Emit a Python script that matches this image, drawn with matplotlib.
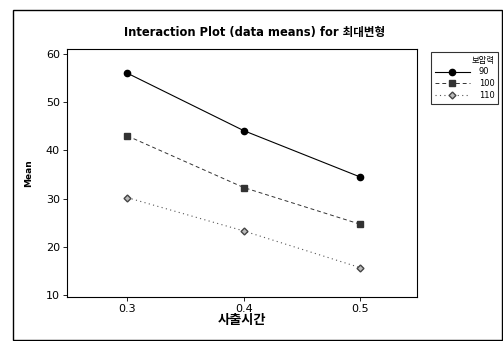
import matplotlib
matplotlib.use("Agg")
import matplotlib.pyplot as plt
from matplotlib.patches import Rectangle

plt.rcParams['font.family'] = ['DejaVu Sans', 'Noto Sans CJK KR']

x_vals = [0.3, 0.4, 0.5]
x_ticks = ["0.3", "0.4", "0.5"]
levels = ["90", "100", "110"]
means_90 = [56.0, 44.1, 34.5]
means_100 = [43.0, 32.3, 24.7]
means_110 = [30.2, 23.3, 15.7]
y_ticks = [10, 20, 30, 40, 50, 60]

fig = plt.figure(figsize=(5.03, 3.41), dpi=100)
ax = fig.add_axes([0.133, 0.129, 0.696, 0.727])

styles = [
    dict(ls='-', marker='o', color='black', ms=4.5, lw=0.8),
    dict(ls=(0, (4, 3)), marker='s', color='#333333', ms=4, lw=0.7),
    dict(ls=(0, (1, 3)), marker='D', color='#555555', ms=3.5, lw=0.8,
         mfc='#bbbbbb', mec='#444444'),
]
for lvl, ys, st in zip(levels, [means_90, means_100, means_110], styles):
    ax.plot(x_vals, ys, label=lvl, **st)

ax.set_xlim(0.248, 0.549)
ax.set_ylim(9.6, 61)
ax.set_xticks(x_vals)
ax.set_xticklabels(x_ticks)
ax.set_yticks(y_ticks)
ax.tick_params(labelsize=8, length=3, width=0.6, pad=2)
for s in ax.spines.values():
    s.set_linewidth(0.8)

ax.set_xlabel("사출시간", fontsize=9.5, fontweight='bold', labelpad=0)
ax.set_ylabel("Mean", fontsize=6.5, fontweight='bold', labelpad=9)
fig.text(0.507, 0.905, "Interaction Plot (data means) for 최대변형",
         ha='center', va='center', fontsize=8.3, fontweight='bold')

leg = fig.legend(title="보압력", loc='upper left',
                 bbox_to_anchor=(427/503, 1-48/341), fontsize=6,
                 title_fontsize=6, frameon=True, fancybox=False,
                 edgecolor='black', handlelength=4.2, markerfirst=True,
                 borderpad=0.4, labelspacing=0.35, handletextpad=1.1)
leg.get_frame().set_linewidth(0.8)
leg._legend_box.align = "right"

fig.patches.append(Rectangle((13/503, 0.003), (502-13)/503, 1-10/341-0.003,
                             transform=fig.transFigure, fill=False,
                             edgecolor='black', lw=1.0))

fig.savefig("out.png", dpi=100)
